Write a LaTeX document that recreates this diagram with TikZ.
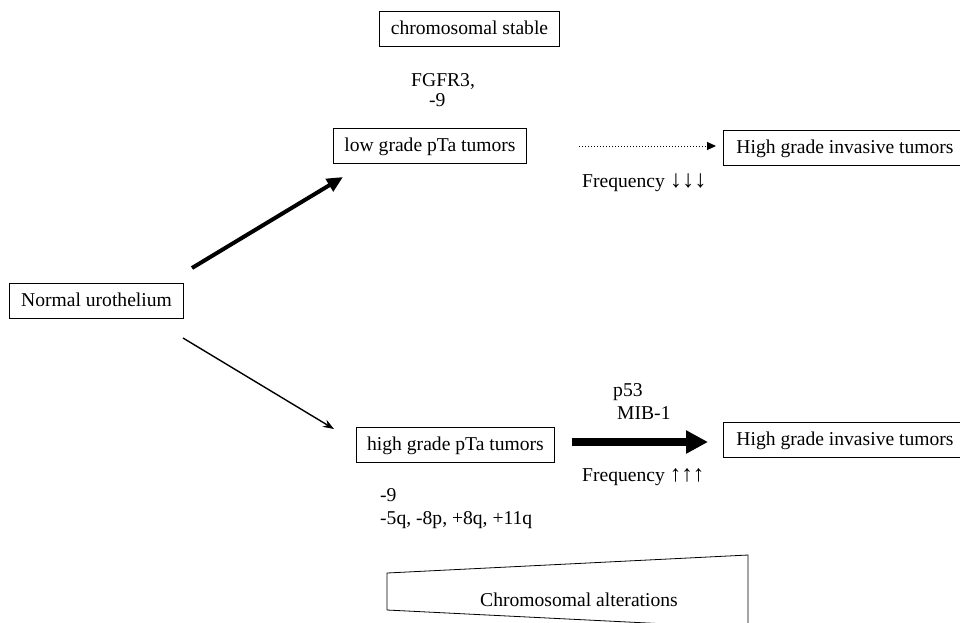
\documentclass[tikz,border=0pt]{standalone}
\usepackage{fontspec}
\setmainfont{Liberation Serif}
\usetikzlibrary{arrows.meta}
\newcommand{\bigarr}[2]{{\fontsize{#1}{#1}\selectfont #2}}
\begin{document}
\begin{tikzpicture}[x=1pt,y=-1pt,
  every node/.style={font=\fontsize{19.6}{22}\selectfont, inner sep=0pt},
  box/.style={draw, line width=0.8pt, text height=14pt, text depth=4pt, inner xsep=11pt, inner ysep=8.5pt},
  lbl/.style={anchor=west}
]
\useasboundingbox (0,0) rectangle (960,622);
\clip (0,0) rectangle (960,622);
\fill[white] (0,0) rectangle (960,622);

\node[box] (stable) at (469.5,29) {chromosomal stable};
\node[lbl] (fgfr) at (411,82) {FGFR3,};
\node[lbl] (m9a) at (429,100) {-9};
\node[box] (low) at (430,146) {low grade pTa tumors};
\node[box, anchor=west, inner xsep=13pt] (hgi1) at (723,148) {High grade invasive tumors};
\node[lbl] (freqd) at (582,183) {Frequency \bigarr{24.5}{↓↓↓}};

\node[box, inner xsep=12pt] (normal) at (96.5,301) {Normal urothelium};

\node[box] (high) at (455.5,445) {high grade pTa tumors};
\node[lbl] (m9b) at (380,495) {-9};
\node[lbl] (alts) at (380,520) {-5q, -8p, +8q, +11q};
\node[lbl] (p53) at (613,392) {p53};
\node[lbl] (mib) at (617,413) {MIB-1};
\node[box, anchor=west, inner xsep=13pt] (hgi2) at (723,440) {High grade invasive tumors};
\node[lbl] (frequ) at (582,477) {Frequency \bigarr{23}{↑↑↑}};

% connectors
\coordinate (u0) at (192,268);
\coordinate (u1) at (343,177);
\coordinate (d0) at (183,338);
\coordinate (d1) at (334,429);
\coordinate (t0) at (579,146);
\coordinate (t1) at (716,146);
\coordinate (h0) at (572,442);
\coordinate (h1) at (708,442);
\draw[line width=4pt, -{Triangle[length=16pt,width=14pt]}] (u0) -- (u1);
\draw[line width=1.4pt, -{Stealth[length=11pt,width=8pt]}] (d0) -- (d1);
\draw[line width=1pt, dotted, -{Triangle[length=9pt,width=8pt]}] (t0) -- (t1);
\draw[line width=7.5pt, -{Triangle[length=22pt,width=22pt]}] (h0) -- (h1);

% chromosomal alterations wedge
\draw[line width=0.8pt] (387,573) -- (748,555) -- (748,640) -- (748,628) -- (387,610) -- cycle;
\node (chromalt) at (579,600) {Chromosomal alterations};
\end{tikzpicture}
\end{document}
